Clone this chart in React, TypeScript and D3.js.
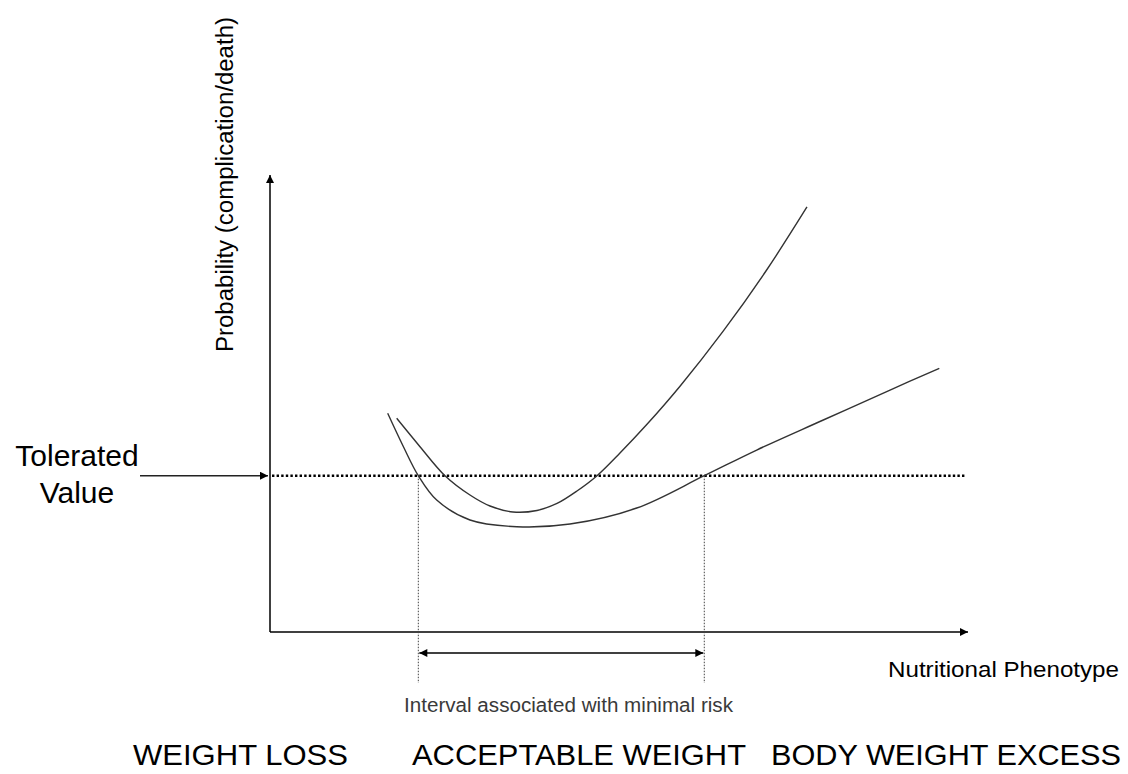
import * as d3 from 'd3';
import { useEffect, useRef } from 'react';

const width = 1128;
const height = 774;

// curve points, in axis units (x: 0..10, y: 0..10)
const narrowCurveX = [1.815, 2.149, 2.507, 2.865, 3.152, 3.481, 3.825, 4.112, 4.398, 4.685, 5.014, 5.401, 5.874, 6.49, 7.12, 7.693];
const narrowCurveY = [4.676, 4.055, 3.42, 2.998, 2.757, 2.626, 2.659, 2.812, 3.085, 3.42, 3.917, 4.545, 5.379, 6.578, 7.932, 9.3];
const wideCurveX = [1.686, 1.91, 2.125, 2.388, 2.865, 3.534, 4.298, 5.254, 6.222, 6.973, 7.927, 8.883, 9.589];
const wideCurveY = [4.786, 4.059, 3.42, 2.888, 2.451, 2.304, 2.363, 2.713, 3.42, 3.982, 4.639, 5.295, 5.77];

const toleratedValue = 3.42;
const intervalBounds = [2.125, 6.222];

const yLabel = 'Probability (complication/death)';
const xLabel = 'Nutritional Phenotype';
const toleratedLabel = ['Tolerated', 'Value'];
const intervalLabel = 'Interval associated with minimal risk';
const zoneLabels = ['WEIGHT LOSS', 'ACCEPTABLE WEIGHT', 'BODY WEIGHT EXCESS'];

export default function App() {
  const ref = useRef<SVGSVGElement | null>(null);

  useEffect(() => {
    document.body.style.margin = '0';
    const svg = d3.select(ref.current);
    svg.selectAll('*').remove();
    svg.attr('width', width).attr('height', height).style('background', '#fff').style('display', 'block');

    const x = d3.scaleLinear().domain([0, 10]).range([270, 968]);
    const y = d3.scaleLinear().domain([0, 10]).range([632, 175]);

    const defs = svg.append('defs');
    const marker = (id, orient) =>
      defs
        .append('marker')
        .attr('id', id)
        .attr('viewBox', '0 0 10 10')
        .attr('refX', 10)
        .attr('refY', 5)
        .attr('markerUnits', 'userSpaceOnUse')
        .attr('markerWidth', 11)
        .attr('markerHeight', 8)
        .attr('orient', orient)
        .append('path')
        .attr('d', 'M0,0L10,5L0,10Z')
        .attr('fill', '#000');
    marker('arrow', 'auto');
    marker('arrowStart', 'auto-start-reverse');

    const font = 'Arial, "Liberation Sans", sans-serif';

    // axes
    svg
      .append('line')
      .attr('x1', x(0))
      .attr('y1', y(0))
      .attr('x2', x(0))
      .attr('y2', y(10))
      .attr('stroke', '#000')
      .attr('stroke-width', 1.5)
      .attr('marker-end', 'url(#arrow)');
    svg
      .append('line')
      .attr('x1', x(0))
      .attr('y1', y(0))
      .attr('x2', x(10))
      .attr('y2', y(0))
      .attr('stroke', '#000')
      .attr('stroke-width', 1.5)
      .attr('marker-end', 'url(#arrow)');

    // tolerated value line
    svg
      .append('line')
      .attr('x1', x(0) + 2)
      .attr('x2', x(10) - 3)
      .attr('y1', y(toleratedValue))
      .attr('y2', y(toleratedValue))
      .attr('stroke', '#000')
      .attr('stroke-width', 2.4)
      .attr('stroke-dasharray', '2.4,2.2');

    svg
      .append('line')
      .attr('x1', 140)
      .attr('x2', x(0) - 2)
      .attr('y1', y(toleratedValue))
      .attr('y2', y(toleratedValue))
      .attr('stroke', '#222')
      .attr('stroke-width', 1.5)
      .attr('marker-end', 'url(#arrow)');

    svg
      .append('g')
      .attr('font-family', font)
      .attr('font-size', 30)
      .attr('text-anchor', 'middle')
      .selectAll('text')
      .data(toleratedLabel)
      .join('text')
      .attr('x', 77)
      .attr('y', (_, i) => 466 + i * 37)
      .text((d) => d);

    // interval bounds
    svg
      .append('g')
      .selectAll('line')
      .data(intervalBounds)
      .join('line')
      .attr('x1', (d) => x(d))
      .attr('x2', (d) => x(d))
      .attr('y1', y(toleratedValue))
      .attr('y2', 683)
      .attr('stroke', '#444')
      .attr('stroke-width', 1)
      .attr('stroke-dasharray', '1.5,1.5');

    svg
      .append('line')
      .attr('x1', x(intervalBounds[0]) + 1)
      .attr('x2', x(intervalBounds[1]) - 1)
      .attr('y1', 653)
      .attr('y2', 653)
      .attr('stroke', '#000')
      .attr('stroke-width', 1.5)
      .attr('marker-start', 'url(#arrowStart)')
      .attr('marker-end', 'url(#arrow)');

    // curves
    const line = d3
      .line()
      .x((d) => x(d[0]))
      .y((d) => y(d[1]))
      .curve(d3.curveCatmullRom.alpha(0.5));
    const curves = [d3.zip(narrowCurveX, narrowCurveY), d3.zip(wideCurveX, wideCurveY)];
    svg
      .append('g')
      .selectAll('path')
      .data(curves)
      .join('path')
      .attr('d', line)
      .attr('fill', 'none')
      .attr('stroke', '#333')
      .attr('stroke-width', 1.4);

    // labels
    svg
      .append('text')
      .attr('transform', 'translate(233,184.5) rotate(-90)')
      .attr('text-anchor', 'middle')
      .attr('font-family', font)
      .attr('font-size', 23)
      .attr('textLength', 335)
      .attr('lengthAdjust', 'spacingAndGlyphs')
      .text(yLabel);

    svg
      .append('text')
      .attr('x', 888)
      .attr('y', 677)
      .attr('font-family', font)
      .attr('font-size', 22)
      .attr('textLength', 231)
      .attr('lengthAdjust', 'spacingAndGlyphs')
      .text(xLabel);

    svg
      .append('text')
      .attr('x', 404)
      .attr('y', 712)
      .attr('font-family', font)
      .attr('font-size', 19.5)
      .attr('textLength', 329)
      .attr('lengthAdjust', 'spacingAndGlyphs')
      .attr('fill', '#3a3a3a')
      .text(intervalLabel);

    const zoneStart = [133, 412, 771];
    const zoneWidth = [215, 334, 350];
    svg
      .append('g')
      .attr('font-family', font)
      .attr('font-size', 30)
      .selectAll('text')
      .data(zoneLabels)
      .join('text')
      .attr('x', (_, i) => zoneStart[i])
      .attr('y', 765)
      .attr('textLength', (_, i) => zoneWidth[i])
      .attr('lengthAdjust', 'spacingAndGlyphs')
      .text((d) => d);
  }, []);

  return <svg ref={ref} />;
}
